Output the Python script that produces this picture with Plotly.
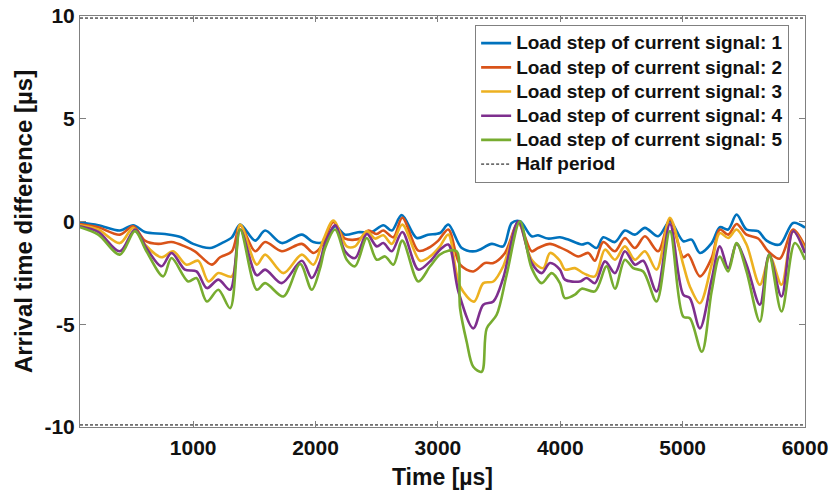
import plotly.graph_objects as go

# ---- data ----
t1 = [75, 224, 401, 510, 605, 769, 902, 1000, 1139, 1234, 1316, 1384, 1506, 1588, 1724, 1888, 1982, 2064, 2160, 2241,
      2347, 2459, 2554, 2623, 2704, 2827, 2919, 3017, 3085, 3195, 3303, 3440, 3534, 3603, 3671, 3766, 3818, 3899, 3997,
      4065, 4175, 4226, 4297, 4351, 4447, 4528, 4610, 4692, 4800, 4896, 5005, 5073, 5141, 5237, 5304, 5372, 5441, 5522,
      5617, 5686, 5794, 5903, 6000]
s1 = [-0.05, -0.18, -0.44, -0.18, -0.51, -0.61, -0.77, -1.09, -1.29, -1.05, -0.77, -0.15, -0.93, -0.44, -1.05, -0.64,
      -1.00, -1.00, -0.23, -0.64, -0.52, -0.51, -0.18, -0.44, 0.31, -0.80, -0.64, -0.56, -0.15, -1.29, -1.45, -1.09,
      -1.21, -0.07, 0.01, -0.72, -0.67, -0.83, -0.77, -0.88, -1.12, -1.05, -1.29, -0.77, -1.00, -0.44, -0.64, -0.31,
      -0.72, 0.01, -0.96, -0.88, -1.53, -1.05, -0.28, -0.39, 0.34, -0.39, -0.47, -0.93, -1.12, -0.07, -0.30]

t2 = [75, 224, 401, 510, 605, 714, 823, 932, 1014, 1152, 1220, 1316, 1384, 1506, 1588, 1724, 1888, 1982, 2037, 2078,
      2146, 2241, 2364, 2432, 2500, 2554, 2636, 2709, 2840, 2922, 3003, 3085, 3181, 3289, 3385, 3453, 3548, 3657, 3766,
      3818, 3916, 3997, 4065, 4147, 4229, 4283, 4351, 4447, 4528, 4610, 4692, 4800, 4896, 5005, 5045, 5141, 5237, 5304,
      5372, 5441, 5522, 5617, 5699, 5794, 5903, 6000]
s2 = [-0.12, -0.28, -0.64, -0.23, -0.93, -1.09, -1.00, -1.21, -1.45, -2.10, -1.74, -1.45, -0.18, -1.45, -1.00, -1.45,
      -1.09, -1.53, -1.29, -0.80, -0.02, -0.83, -0.83, -0.44, -0.61, -0.44, -0.77, 0.18, -1.42, -1.29, -0.93, -0.39,
      -2.10, -2.43, -2.02, -2.02, -1.53, -0.07, -1.45, -1.29, -1.09, -1.26, -1.45, -1.70, -1.53, -1.91, -1.00, -1.45,
      -0.80, -1.29, -0.72, -1.45, 0.10, -1.74, -1.61, -2.67, -1.78, -0.39, -0.64, -0.12, -0.64, -0.83, -1.45, -1.81,
      -0.39, -1.21]

t3 = [75, 224, 401, 510, 605, 741, 836, 945, 1041, 1125, 1206, 1316, 1384, 1520, 1588, 1737, 1888, 1982, 2064, 2146,
      2255, 2323, 2419, 2486, 2554, 2623, 2709, 2854, 2936, 3017, 3085, 3181, 3295, 3371, 3453, 3534, 3657, 3766, 3861,
      3916, 3997, 4038, 4120, 4188, 4283, 4365, 4447, 4528, 4610, 4692, 4787, 4896, 5005, 5059, 5141, 5237, 5304, 5372,
      5441, 5522, 5631, 5713, 5808, 5903, 6000]
s3 = [-0.18, -0.39, -1.05, -0.31, -1.12, -1.74, -1.45, -2.10, -1.91, -2.92, -2.51, -2.67, -0.15, -2.10, -1.61, -2.51,
      -1.61, -2.10, -0.88, 0.05, -1.21, -1.21, -0.47, -0.83, -0.67, -1.09, -0.15, -1.91, -1.70, -1.21, -0.64, -3.16,
      -3.90, -3.00, -2.92, -2.18, -0.07, -1.86, -2.27, -1.53, -1.91, -2.34, -2.27, -2.51, -2.67, -1.37, -1.86, -1.21,
      -1.86, -1.45, -2.34, 0.18, -2.10, -3.16, -3.98, -2.10, -0.56, -0.80, -0.39, -1.12, -3.08, -1.70, -3.08, -0.47,
      -1.37]

t4 = [75, 224, 401, 524, 618, 741, 823, 932, 1027, 1112, 1206, 1302, 1384, 1520, 1588, 1724, 1888, 1969, 2037, 2078,
      2160, 2241, 2323, 2419, 2500, 2554, 2623, 2709, 2840, 2936, 3017, 3085, 3167, 3289, 3371, 3453, 3534, 3657, 3766,
      3848, 3916, 3997, 4038, 4161, 4215, 4283, 4365, 4447, 4528, 4610, 4678, 4787, 4896, 5005, 5059, 5141, 5237, 5304,
      5372, 5441, 5522, 5631, 5707, 5808, 5903, 6000]
s4 = [-0.23, -0.51, -1.45, -0.39, -1.29, -2.18, -1.53, -2.34, -2.43, -3.24, -2.83, -3.32, -0.39, -2.62, -2.34, -3.00,
      -1.91, -2.75, -1.94, -1.05, -0.18, -1.45, -1.78, -0.61, -1.21, -1.05, -1.45, -0.51, -2.34, -1.94, -1.37, -1.12,
      -3.40, -5.20, -4.05, -3.89, -2.75, 0.01, -2.02, -2.51, -2.02, -2.34, -2.83, -2.92, -2.75, -3.00, -1.94, -2.51,
      -1.45, -2.10, -1.91, -3.40, -0.12, -3.56, -3.73, -5.20, -2.83, -1.21, -2.27, -1.09, -2.10, -4.05, -1.61, -3.65,
      -0.47, -1.53]

t5 = [75, 224, 401, 524, 618, 755, 823, 959, 1027, 1112, 1206, 1302, 1384, 1520, 1588, 1737, 1874, 1969, 2037, 2078,
      2160, 2255, 2323, 2419, 2500, 2568, 2636, 2709, 2840, 2936, 3017, 3085, 3154, 3181, 3235, 3289, 3358, 3399, 3480,
      3562, 3671, 3766, 3848, 3930, 3997, 4038, 4120, 4175, 4283, 4379, 4447, 4528, 4596, 4678, 4787, 4896, 5005, 5059,
      5157, 5237, 5304, 5372, 5441, 5522, 5631, 5707, 5808, 5917, 6000]
s5 = [-0.28, -0.64, -1.61, -0.47, -1.45, -2.67, -1.78, -2.92, -2.75, -3.89, -3.32, -4.22, -0.39, -3.32, -3.00, -3.65,
      -2.07, -3.32, -2.27, -1.29, -0.39, -1.86, -2.18, -0.80, -1.86, -1.70, -2.10, -0.93, -2.92, -2.18, -1.61, -1.42,
      -1.45, -4.22, -5.85, -7.07, -7.31, -5.20, -4.54, -2.59, 0.01, -2.27, -3.00, -2.51, -3.00, -3.73, -3.56, -3.27,
      -3.40, -2.18, -3.27, -1.86, -2.27, -2.43, -3.89, -0.47, -4.63, -4.71, -6.34, -3.40, -1.70, -2.43, -1.05, -2.43,
      -4.87, -1.61, -4.38, -1.05, -1.86]

half_period = 9.9
t_range = [75, 6000]

series_names = ["Load step of current signal: 1", "Load step of current signal: 2",
                "Load step of current signal: 3", "Load step of current signal: 4",
                "Load step of current signal: 5"]
half_name = "Half period"
colors = ["#0072BD", "#D95319", "#EDB120", "#7E2F8E", "#77AC30"]
x_ticks = [1000, 2000, 3000, 4000, 5000, 6000]
y_ticks = [-10, -5, 0, 5, 10]


def legend_label(text):
    # larger glyphs than the legend's row spacing (MATLAB-style tight legend)
    return '<span style="font-size:19px">' + text + '</span>'


fig = go.Figure()
for t, s, name, c in zip([t1, t2, t3, t4, t5], [s1, s2, s3, s4, s5], series_names, colors):
    fig.add_trace(go.Scatter(x=t, y=s, mode="lines", name=legend_label(name),
                             line=dict(color=c, width=2.6, shape="spline", smoothing=0.9)))

fig.add_trace(go.Scatter(x=[t_range[0], t_range[1], None, t_range[0], t_range[1]],
                         y=[half_period, half_period, None, -half_period, -half_period],
                         mode="lines", name=legend_label(half_name),
                         line=dict(color="black", width=1, dash="3px,2px")))

tick_font = dict(family="Liberation Sans", size=21, color="#111", weight="bold")
axis_common = dict(showgrid=False, zeroline=False, showline=True, linecolor="#808080", linewidth=1,
                   mirror="ticks", ticks="inside", ticklen=6, tickcolor="#808080", tickfont=tick_font,
                   automargin=False)

fig.update_layout(
    width=831, height=499,
    margin=dict(l=80, r=26, t=16, b=72),
    paper_bgcolor="white", plot_bgcolor="white",
    showlegend=True,
    legend=dict(x=0.545, y=0.978, xanchor="left", yanchor="top",
                bgcolor="white", bordercolor="#808080", borderwidth=1,
                font=dict(family="Liberation Sans", size=16.3, color="#111", weight="bold"),
                tracegroupgap=0, itemwidth=30),
    xaxis=dict(range=t_range, tickvals=x_ticks, ticktext=[str(v) for v in x_ticks],
               ticklabelstandoff=2,
               title=dict(text="Time [µs]", font=dict(family="Liberation Sans", size=23, color="#111", weight="bold"),
                          standoff=10),
               **axis_common),
    yaxis=dict(range=[-10, 10], tickvals=y_ticks, ticktext=[str(v) for v in y_ticks],
               title=dict(text="Arrival time difference [µs]",
                          font=dict(family="Liberation Sans", size=24, color="#111", weight="bold"),
                          standoff=5),
               **axis_common),
)

fig.write_html("out.html")
